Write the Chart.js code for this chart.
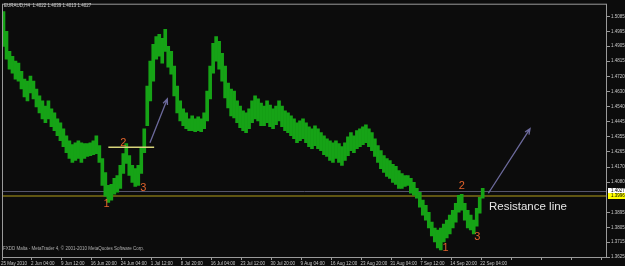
<!DOCTYPE html>
<html>
<head>
<meta charset="utf-8">
<script src="https://cdn.jsdelivr.net/npm/chart.js@4.4.0/dist/chart.umd.min.js"></script>
<style>
  html, body { margin: 0; padding: 0; background: #0c0c0c; }
  canvas { display: block; }
</style>
</head>
<body>
<canvas id="chart" width="625" height="266"></canvas>
<script>
// each bin is roughly two H4 bars squeezed into one column
const binCount = 202;
const labelEvery = 10;
const dateLabels = ['25 May 2010', '2 Jun 04:00', '9 Jun 12:00', '16 Jun 20:00', '24 Jun 04:00', '1 Jul 12:00',
  '8 Jul 20:00', '16 Jul 04:00', '23 Jul 12:00', '30 Jul 20:00', '9 Aug 04:00', '16 Aug 12:00',
  '23 Aug 20:00', '31 Aug 04:00', '7 Sep 12:00', '14 Sep 20:00', '22 Sep 04:00'];

const highs = [
  1.5115,1.4995,1.4874,1.4844,1.4814,1.4802,1.4753,1.4705,1.4693,1.4723,
  1.4693,1.4645,1.4603,1.4573,1.4542,1.4573,1.4524,1.4500,1.4464,1.4440,
  1.4404,1.4361,1.4331,1.4307,1.4319,1.4331,1.4319,1.4313,1.4313,1.4319,
  1.4331,1.4361,1.4301,1.4223,1.4138,1.4060,1.4066,1.4102,1.4120,1.4181,
  1.4253,1.4313,1.4241,1.4181,1.4162,1.4181,1.4289,1.4404,1.4663,1.4814,
  1.4916,1.4964,1.4977,1.4952,1.5007,1.4904,1.4874,1.4784,1.4663,1.4573,
  1.4524,1.4500,1.4464,1.4482,1.4464,1.4476,1.4464,1.4500,1.4633,1.4784,
  1.4922,1.4964,1.4934,1.4862,1.4784,1.4681,1.4645,1.4633,1.4573,1.4542,
  1.4512,1.4500,1.4524,1.4573,1.4603,1.4585,1.4560,1.4542,1.4573,1.4548,
  1.4524,1.4542,1.4573,1.4542,1.4512,1.4500,1.4482,1.4464,1.4440,1.4452,
  1.4464,1.4440,1.4416,1.4404,1.4422,1.4404,1.4380,1.4361,1.4343,1.4331,
  1.4319,1.4331,1.4313,1.4295,1.4319,1.4355,1.4380,1.4361,1.4392,1.4404,
  1.4416,1.4428,1.4404,1.4380,1.4343,1.4301,1.4271,1.4241,1.4223,1.4211,
  1.4187,1.4175,1.4150,1.4132,1.4120,1.4120,1.4102,1.4078,1.4042,1.4018,
  1.3970,1.3939,1.3897,1.3837,1.3801,1.3789,1.3801,1.3825,1.3849,1.3879,
  1.3909,1.3951,1.4000,1.4006,1.3951,1.3909,1.3879,1.3849,1.3921,1.3988,
  1.4042
];
const lows = [
  1.4904,1.4826,1.4765,1.4741,1.4705,1.4693,1.4645,1.4597,1.4573,1.4621,
  1.4585,1.4536,1.4500,1.4464,1.4440,1.4464,1.4416,1.4392,1.4361,1.4331,
  1.4295,1.4259,1.4223,1.4199,1.4211,1.4223,1.4199,1.4223,1.4235,1.4241,
  1.4247,1.4253,1.4199,1.4060,1.3994,1.3957,1.3970,1.4006,1.4018,1.4042,
  1.4132,1.4193,1.4120,1.4078,1.4054,1.4060,1.4132,1.4259,1.4422,1.4573,
  1.4693,1.4826,1.4844,1.4802,1.4874,1.4778,1.4735,1.4603,1.4500,1.4452,
  1.4422,1.4404,1.4392,1.4392,1.4386,1.4392,1.4386,1.4404,1.4452,1.4585,
  1.4741,1.4814,1.4765,1.4693,1.4591,1.4530,1.4482,1.4470,1.4440,1.4410,
  1.4392,1.4380,1.4404,1.4440,1.4464,1.4452,1.4422,1.4422,1.4440,1.4416,
  1.4404,1.4428,1.4452,1.4416,1.4392,1.4380,1.4361,1.4343,1.4319,1.4331,
  1.4343,1.4319,1.4295,1.4283,1.4301,1.4283,1.4271,1.4247,1.4235,1.4211,
  1.4199,1.4223,1.4199,1.4181,1.4211,1.4241,1.4271,1.4259,1.4283,1.4295,
  1.4307,1.4319,1.4295,1.4271,1.4235,1.4199,1.4162,1.4138,1.4114,1.4102,
  1.4078,1.4066,1.4042,1.4042,1.4054,1.4060,1.4012,1.4000,1.3982,1.3927,
  1.3879,1.3849,1.3801,1.3753,1.3716,1.3680,1.3668,1.3716,1.3741,1.3765,
  1.3801,1.3837,1.3897,1.3909,1.3849,1.3801,1.3789,1.3765,1.3813,1.3891,
  1.3982
];

const priceTicks = [1.5085, 1.4995, 1.4905, 1.4815, 1.4720, 1.4630, 1.4540, 1.4445,
  1.4355, 1.4265, 1.4170, 1.4080, 1.3895, 1.3805, 1.3715, 1.3625];
const priceMin = 1.3619;
const priceMax = 1.5163;

const bidPrice = 1.4027;
const levelPrice = 1.3996;
const ohlcText = 'EURAUD,H4  1.4022 1.4039 1.4013 1.4027';
const copyright = 'FXDD Malta - MetaTrader 4, \u00a9 2001-2010 MetaQuotes Software Corp.';

// drawn objects, x in bins, y in price
const yellowSeg = { from: 35.0, to: 50.3, price: 1.4291 };
const arrows = [
  { x0: 48.9, y0: 1.4319, x1: 54.7, y1: 1.4585 },
  { x0: 161.9, y0: 1.4012, x1: 175.8, y1: 1.4404 }
];
const waveMarks = [
  { x: 34.4, y: 1.3945, t: '1' }, { x: 40.0, y: 1.4319, t: '2' }, { x: 46.7, y: 1.4042, t: '3' },
  { x: 147.6, y: 1.3680, t: '1' }, { x: 153.0, y: 1.4054, t: '2' }, { x: 158.2, y: 1.3747, t: '3' }
];
const noteText = { x: 162.1, y: 1.3927, t: 'Resistance line' };

const labels = Array.from({ length: binCount }, (_, i) =>
  i % labelEvery === 0 ? (dateLabels[i / labelEvery] || '') : '');
const ranges = highs.map((h, i) => [lows[i], h]);

const overlay = {
  id: 'overlay',
  beforeDraw(chart) {
    const { ctx, width, height } = chart;
    ctx.save();
    ctx.fillStyle = '#0c0c0c';
    ctx.fillRect(0, 0, width, height);
    ctx.restore();
  },
  beforeDatasetsDraw(chart) {
    const { ctx, chartArea: a, scales: { y } } = chart;
    ctx.save();
    const hline = (p, color, w) => {
      const py = Math.round(y.getPixelForValue(p)) + (w % 2 ? 0.5 : 0);
      ctx.strokeStyle = color;
      ctx.lineWidth = w;
      ctx.beginPath();
      ctx.moveTo(a.left, py);
      ctx.lineTo(a.right, py);
      ctx.stroke();
    };
    hline(levelPrice, '#5f5512', 2);
    hline(bidPrice, '#55556a', 1);
    ctx.restore();
  },
  afterDraw(chart) {
    const { ctx, chartArea: a, scales: { x, y } } = chart;
    ctx.save();

    // frame
    ctx.strokeStyle = '#9a9a9a';
    ctx.lineWidth = 1;
    ctx.strokeRect(a.left + 0.5, a.top + 0.5, a.width - 1, a.height - 1);

    // yellow segment
    const sy = y.getPixelForValue(yellowSeg.price);
    ctx.strokeStyle = '#d8d47a';
    ctx.lineWidth = 1.6;
    ctx.beginPath();
    ctx.moveTo(x.getPixelForValue(yellowSeg.from), sy);
    ctx.lineTo(x.getPixelForValue(yellowSeg.to), sy);
    ctx.stroke();

    // arrows
    ctx.strokeStyle = '#6c6a9c';
    ctx.lineWidth = 1.3;
    arrows.forEach(ar => {
      const x0 = x.getPixelForValue(ar.x0), y0 = y.getPixelForValue(ar.y0);
      const x1 = x.getPixelForValue(ar.x1), y1 = y.getPixelForValue(ar.y1);
      const ang = Math.atan2(y1 - y0, x1 - x0);
      ctx.beginPath();
      ctx.moveTo(x0, y0);
      ctx.lineTo(x1, y1);
      ctx.moveTo(x1 - 6 * Math.cos(ang - 0.4), y1 - 6 * Math.sin(ang - 0.4));
      ctx.lineTo(x1, y1);
      ctx.lineTo(x1 - 6 * Math.cos(ang + 0.4), y1 - 6 * Math.sin(ang + 0.4));
      ctx.stroke();
    });

    // wave numbers
    ctx.fillStyle = '#e0622c';
    ctx.font = '11px "Liberation Sans", Arial, sans-serif';
    ctx.textAlign = 'center';
    ctx.textBaseline = 'middle';
    waveMarks.forEach(m => ctx.fillText(m.t, x.getPixelForValue(m.x), y.getPixelForValue(m.y)));

    ctx.fillStyle = '#e6e6e6';
    ctx.font = '11.5px "Liberation Sans", Arial, sans-serif';
    ctx.textAlign = 'left';
    ctx.fillText(noteText.t, x.getPixelForValue(noteText.x), y.getPixelForValue(noteText.y));

    // header + copyright
    ctx.fillStyle = '#d0d0d0';
    ctx.font = '4.5px "Liberation Sans", Arial, sans-serif';
    ctx.fillText(ohlcText, a.left + 2, 6);
    ctx.fillStyle = '#b0b0b0';
    ctx.fillText(copyright, a.left + 1, 249);

    // price tags on the right axis
    const tag = (p, bg) => {
      const py = Math.round(y.getPixelForValue(p));
      ctx.fillStyle = bg;
      ctx.fillRect(a.right + 1, py - 3, chart.width - a.right - 1, 6);
      ctx.fillStyle = '#000';
      ctx.font = '4.5px "Liberation Sans", Arial, sans-serif';
      ctx.textAlign = 'left';
      ctx.fillText(p.toFixed(4), a.right + 4, py);
    };
    tag(bidPrice, '#ffffff');
    tag(levelPrice, '#ffff00');
    ctx.restore();
  }
};

new Chart(document.getElementById('chart'), {
  type: 'bar',
  data: {
    labels: labels,
    datasets: [{
      data: ranges,
      backgroundColor: '#16a316',
      borderWidth: 0,
      barPercentage: 1,
      categoryPercentage: 1
    }]
  },
  options: {
    responsive: false,
    animation: false,
    layout: { padding: { left: 2, top: 2, right: 0, bottom: 0 } },
    plugins: { legend: { display: false }, tooltip: { enabled: false } },
    scales: {
      x: {
        grid: {
          drawOnChartArea: false,
          tickLength: 2,
          tickColor: c => (c.index % labelEvery === 0 ? '#9a9a9a' : 'rgba(0,0,0,0)')
        },
        border: { display: false },
        ticks: {
          autoSkip: false,
          maxRotation: 0,
          align: 'start',
          labelOffset: -2.5,
          padding: 1,
          color: '#c8c8c8',
          font: { size: 4.5, family: '"Liberation Sans", Arial, sans-serif' }
        },
        afterFit: s => { s.height = 8; }
      },
      y: {
        position: 'right',
        min: priceMin,
        max: priceMax,
        afterBuildTicks: s => { s.ticks = priceTicks.map(v => ({ value: v })); },
        grid: { drawOnChartArea: false, tickLength: 3, tickColor: '#9a9a9a' },
        border: { display: false },
        ticks: {
          padding: 1,
          color: '#c8c8c8',
          font: { size: 4.5, family: '"Liberation Sans", Arial, sans-serif' },
          callback: v => v.toFixed(4)
        },
        afterFit: s => { s.width = 18; }
      }
    }
  },
  plugins: [overlay]
});
</script>
</body>
</html>
